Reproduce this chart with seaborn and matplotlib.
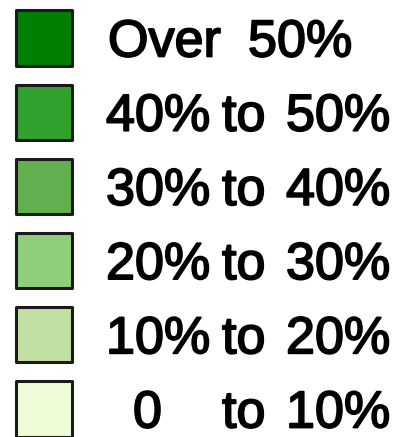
import seaborn as sns
import matplotlib.pyplot as plt
import matplotlib.patheffects as pe
import pandas as pd

labels = ["Over 50%", "40% to 50%", "30% to 40%", "20% to 30%", "10% to 20%", "0   to 10%"]
colors = ["#007f00", "#32a22e", "#62af4f", "#8fcf7c", "#c0dfa0", "#edfbd6"]

df = pd.DataFrame({"label": labels, "row": range(len(labels)), "x": 44})

sns.set_style("white")
plt.rcParams['font.family'] = ['Liberation Sans', 'DejaVu Sans']

fig = plt.figure(figsize=(4.02, 4.37), dpi=100)
ax = fig.add_axes([0, 0, 1, 1])

sns.scatterplot(data=df, x="x", y="row", hue="label", palette=dict(zip(labels, colors)),
                marker="s", s=1570, edgecolor="#1a1a1a", linewidth=2.2, legend=False, ax=ax)

# row pitch ~74.2 px, first centre at 38 px
pitch = 74.2
ax.set_xlim(0, 402)
ax.set_ylim((437 - 38) / pitch, -38 / pitch)

fs = 37.5
# regular face thickened a little, the original is a heavy Arial
txt = dict(fontsize=fs, va="baseline", ha="left", color="black",
           path_effects=[pe.withStroke(linewidth=1.3, foreground="black")])
for i, lab in enumerate(labels):
    yb = i + 18.5 / pitch
    if lab.startswith("0"):
        # the lone 0 sits under the 0 of "10%"
        ax.text(133, yb, "0", **txt)
        ax.text(222, yb, "to", **txt)
        ax.text(286, yb, "10%", **txt)
    elif " to " in lab:
        a, b = lab.split(" to ")
        ax.text(106, yb, a, **txt)
        ax.text(222, yb, "to", **txt)
        ax.text(286, yb, b, **txt)
    else:
        a, b = lab.split(" ")
        ax.text(108, yb, a, **txt)
        ax.text(248, yb, b, **txt)

ax.axis("off")
fig.savefig("out.png", dpi=100)
